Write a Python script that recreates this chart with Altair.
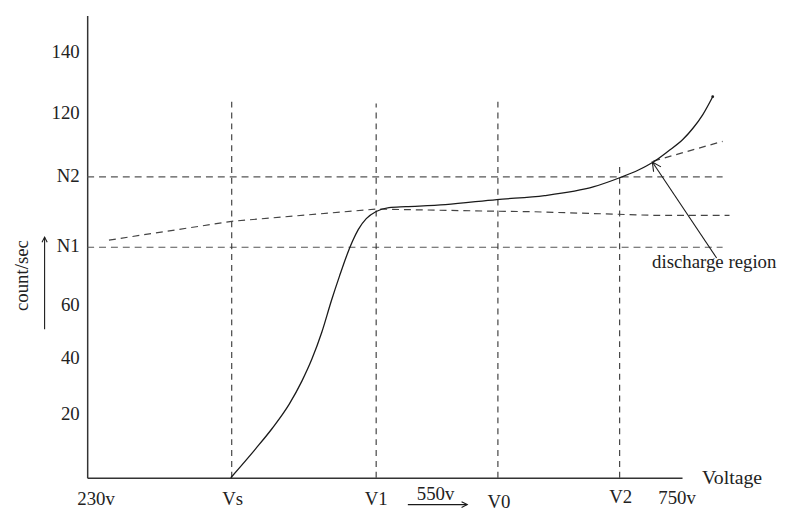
import altair as alt
import pandas as pd

# ---- data (x: voltage units, y: count/sec units) ----
curve_v = [349.1, 371.3, 386.5, 401.6, 413.2, 422.1, 431.0, 439.9, 447.0, 453.2, 458.6,
           463.9, 471.0, 479.9, 491.5, 506.6, 542.2, 588.5, 631.3, 675.8, 698.9, 715.8,
           729.2, 742.5, 755.9, 764.8, 773.7, 782.6]
curve_n = [0.0, 9.63, 16.6, 24.6, 32.5, 39.8, 48.8, 59.7, 67.7, 74.3, 79.3,
           83.3, 86.9, 89.3, 90.6, 90.9, 91.6, 93.3, 94.6, 97.6, 100.6, 103.2,
           105.9, 109.5, 113.5, 117.2, 121.8, 127.8]

plateau_v = [239.6, 350.0, 479.9, 569.0, 622.0, 676.0, 729.0, 797.7]
plateau_n = [79.7, 86.0, 90.1, 89.5, 89.2, 88.6, 88.0, 88.0]

tangent_v = [729.2, 791.5]
tangent_n = [106.2, 112.8]

level_names = ["N1", "N2"]
level_n = [77.3, 100.9]
level_x0 = [220.0, 220.0]
level_x1 = [791.5, 791.5]

mark_names = ["Vs", "V1", "V0", "V2"]
mark_v = [350.0, 479.9, 589.4, 698.9]
mark_top = [126.1, 125.5, 126.1, 104.5]

xlab_text = ["230v", "Vs", "V1", "550v", "V0", "V2", "750v"]
xlab_v = [228.0, 350.9, 479.9, 533.3, 590.3, 699.8, 750.5]
xlab_n = [-8.97, -8.97, -8.97, -7.6, -10.2, -8.3, -8.63]

ytick_pos = [21.4, 40.3, 58.1, 77.8, 101.2, 122.3, 143.05]
ytick_text = ["20", "40", "60", "N1", "N2", "120", "140"]

# arrows: tail, tip, head angle, head size
arrow_tail_v = [786.1, 181.7, 508.4]
arrow_tail_n = [73.7, 49.8, -9.0]
arrow_tip_v = [728.3, 181.7, 561.8]
arrow_tip_n = [105.9, 80.7, -9.0]
arrow_angle = [326.2, 0.0, 90.0]
arrow_size = [320, 110, 130]

FONT = "Liberation Serif"
INK = "#222222"

xscale = alt.Scale(domain=[220, 755], zero=False, nice=False)
yscale = alt.Scale(domain=[0, 155], zero=False, nice=False)

expr = "[" + ",".join("'%s'" % t for t in ytick_text) + "][indexof([" + \
       ",".join(str(p) for p in ytick_pos) + "], datum.value)]"

xaxis = alt.Axis(domain=True, ticks=False, labels=False, grid=False, title=None,
                 domainColor="#333333", domainWidth=1.5)
yaxis = alt.Axis(domain=True, ticks=False, grid=False, title=None, values=ytick_pos,
                 labelExpr=expr, labelFont=FONT, labelFontSize=19, labelColor=INK,
                 labelPadding=8, labelBaseline="middle", labelOverlap=False,
                 labelFlush=False, domainColor="#333333", domainWidth=1.5)


def X(f):
    return alt.X(f, type="quantitative", scale=xscale, axis=xaxis)


def Y(f):
    return alt.Y(f, type="quantitative", scale=yscale, axis=yaxis)


curve_df = pd.DataFrame({"v": curve_v, "n": curve_n})
plateau_df = pd.DataFrame({"v": plateau_v, "n": plateau_n})
tangent_df = pd.DataFrame({"v": tangent_v, "n": tangent_n})
level_df = pd.DataFrame({"name": level_names, "n": level_n, "x0": level_x0, "x1": level_x1})
mark_df = pd.DataFrame({"name": mark_names, "v": mark_v, "top": mark_top,
                        "bot": [0.0] * len(mark_v)})
xlab_df = pd.DataFrame({"t": xlab_text, "v": xlab_v, "n": xlab_n})
arrow_df = pd.DataFrame({"tv": arrow_tail_v, "tn": arrow_tail_n, "hv": arrow_tip_v,
                         "hn": arrow_tip_n, "ang": arrow_angle, "sz": arrow_size})
end_df = pd.DataFrame({"v": [curve_v[-1]], "n": [curve_n[-1]]})
volt_df = pd.DataFrame({"t": ["Voltage"], "v": [773.0], "n": [-1.99]})
disc_df = pd.DataFrame({"t": ["discharge region"], "v": [728.0], "n": [70.4]})
ytitle_df = pd.DataFrame({"t": ["count/sec"], "v": [167.0], "n": [67.8]})

levels = alt.Chart(level_df).mark_rule(color="#555555", strokeWidth=1.2,
                                       strokeDash=[7, 5]).encode(
    x=X("x0"), x2="x1", y=Y("n"))

verticals = alt.Chart(mark_df).mark_rule(color="#333333", strokeWidth=1.1,
                                         strokeDash=[6, 5]).encode(
    x=X("v"), y=Y("bot"), y2="top")

plateau = alt.Chart(plateau_df).mark_line(color="#444444", strokeWidth=1.2,
                                          strokeDash=[7, 5]).encode(
    x=X("v"), y=Y("n"), order="v:Q")

tangent = alt.Chart(tangent_df).mark_line(color="#444444", strokeWidth=1.2,
                                          strokeDash=[7, 5]).encode(
    x=X("v"), y=Y("n"))

curve = alt.Chart(curve_df).mark_line(color="#1a1a1a", strokeWidth=1.3,
                                      interpolate="monotone").encode(
    x=X("v"), y=Y("n"), order="v:Q")

end_dot = alt.Chart(end_df).mark_point(filled=True, color="#1a1a1a", size=8,
                                       opacity=1).encode(x=X("v"), y=Y("n"))

arrow_lines = alt.Chart(arrow_df).mark_rule(color="#1a1a1a", strokeWidth=1.1).encode(
    x=X("tv"), y=Y("tn"), x2="hv", y2="hn")

arrow_heads = alt.Chart(arrow_df).mark_point(
    shape="M-0.5,1L0,0L0.5,1", filled=False, color="#1a1a1a", strokeWidth=1.1,
    opacity=1).encode(
    x=X("hv"), y=Y("hn"), angle=alt.Angle("ang:Q", scale=None),
    size=alt.Size("sz:Q", scale=None, legend=None))

xlabels = alt.Chart(xlab_df).mark_text(font=FONT, fontSize=19, color=INK,
                                       align="center", baseline="alphabetic").encode(
    x=X("v"), y=Y("n"), text="t:N")

volt = alt.Chart(volt_df).mark_text(font=FONT, fontSize=20, color=INK,
                                    align="left", baseline="alphabetic").encode(
    x=X("v"), y=Y("n"), text="t:N")

disc = alt.Chart(disc_df).mark_text(font=FONT, fontSize=19, color=INK,
                                    align="left", baseline="alphabetic").encode(
    x=X("v"), y=Y("n"), text="t:N")

ytitle = alt.Chart(ytitle_df).mark_text(font=FONT, fontSize=19, color=INK, angle=270,
                                        align="center", baseline="alphabetic").encode(
    x=X("v"), y=Y("n"), text="t:N")

chart = alt.layer(
    levels, verticals, plateau, tangent, curve, end_dot, arrow_lines, arrow_heads,
    xlabels, volt, disc, ytitle
).properties(
    width=601, height=467,
    padding={"left": 80, "top": 5, "right": 101, "bottom": 35},
    autosize=alt.AutoSizeParams(type="none"),
    background="white",
).configure_view(strokeWidth=0)

chart.save("out.html", embed_options={"renderer": "svg", "actions": False})
